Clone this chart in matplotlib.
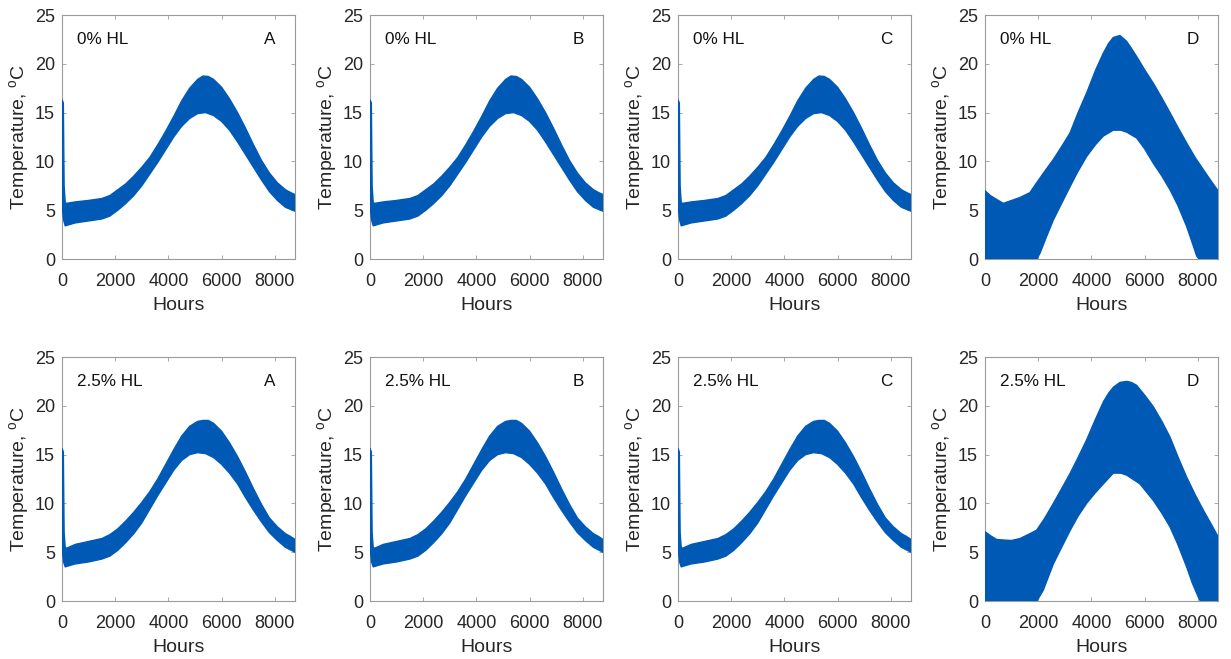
import matplotlib.pyplot as plt

plt.rcParams['font.family'] = ['Liberation Sans', 'DejaVu Sans']
plt.rcParams['mathtext.default'] = 'regular'

# envelope of the hourly temperature band (upper / lower edge), cases A-C
abc_up_h = [0, 50, 80, 120, 170, 500, 1000, 1500, 1800, 2100, 2400, 2700, 3000, 3300, 3600, 3900,
            4200, 4500, 4800, 5100, 5300, 5500, 5700, 6000, 6300, 6600, 6900, 7200, 7500, 7800,
            8100, 8400, 8600, 8760]
abc_up_0 = [16.3, 16.0, 7.5, 5.8, 5.7, 5.85, 6.0, 6.2, 6.5, 7.1, 7.7, 8.5, 9.4, 10.4, 11.7, 13.1,
            14.6, 16.2, 17.5, 18.4, 18.75, 18.7, 18.4, 17.6, 16.4, 15.0, 13.4, 11.7, 10.1, 8.8,
            7.8, 7.1, 6.8, 6.6]
abc_up_25 = [15.6, 15.3, 7.0, 5.5, 5.4, 5.8, 6.1, 6.4, 6.8, 7.4, 8.2, 9.1, 10.1, 11.2, 12.5, 14.0,
             15.5, 16.9, 17.9, 18.4, 18.5, 18.5, 18.2, 17.4, 16.2, 14.8, 13.2, 11.5, 9.9, 8.5,
             7.6, 6.9, 6.6, 6.3]
abc_lo_h = [0, 60, 120, 500, 1000, 1500, 1800, 2100, 2400, 2700, 3000, 3300, 3600, 3900, 4200,
            4500, 4800, 5100, 5400, 5700, 6000, 6300, 6600, 6900, 7200, 7500, 7800, 8100, 8400, 8760]
abc_lo_0 = [5.5, 4.0, 3.4, 3.7, 3.9, 4.1, 4.4, 5.0, 5.7, 6.5, 7.5, 8.7, 9.9, 11.2, 12.5,
            13.6, 14.4, 14.9, 15.0, 14.7, 14.1, 13.2, 12.0, 10.7, 9.4, 8.1, 6.9, 6.0, 5.3, 4.9]
abc_lo_25 = [5.5, 4.0, 3.5, 3.8, 4.0, 4.3, 4.6, 5.2, 6.0, 6.9, 8.0, 9.4, 10.8, 12.1, 13.4,
             14.4, 15.0, 15.2, 15.1, 14.7, 14.0, 13.1, 12.0, 10.6, 9.3, 8.1, 7.0, 6.2, 5.5, 5.0]

# envelope for case D
d_up_h = [0, 200, 440, 690, 1000, 1315, 1690, 1940, 2250, 2570, 2900, 3195, 3500, 3820, 4150,
          4450, 4650, 4825, 5075, 5325, 5500, 5700, 6000, 6330, 6650, 6955, 7250, 7580, 7900,
          8210, 8500, 8760]
d_up_0 = [7.0, 6.5, 6.1, 5.7, 6.0, 6.3, 6.8, 7.8, 9.0, 10.2, 11.6, 12.9, 15.0, 17.0, 19.3,
          21.1, 22.1, 22.7, 22.9, 22.3, 21.6, 20.75, 19.4, 18.0, 16.5, 15.0, 13.5, 11.9, 10.4,
          9.15, 8.0, 7.0]
d_up_25 = [7.1, 6.7, 6.3, 6.25, 6.2, 6.4, 6.9, 7.25, 8.5, 10.0, 11.6, 13.05, 14.7, 16.5, 18.6,
           20.4, 21.3, 21.9, 22.4, 22.5, 22.4, 22.1, 21.1, 19.9, 18.4, 16.8, 14.8, 12.7, 10.9,
           9.3, 7.9, 6.6]
d_lo_h_0 = [0, 1950, 2070, 2300, 2570, 2900, 3195, 3500, 3820, 4150, 4450, 4825, 5100, 5325,
            5700, 6000, 6330, 6650, 6955, 7250, 7580, 7800, 7960, 8050, 8760]
d_lo_0 = [0, 0, 0.6, 2.2, 4.0, 5.8, 7.4, 9.0, 10.5, 11.7, 12.6, 13.2, 13.2, 13.0,
          12.4, 11.3, 9.8, 8.5, 7.1, 5.5, 3.35, 1.6, 0.3, 0, 0]
d_lo_h_25 = [0, 1950, 2190, 2570, 2900, 3195, 3500, 3820, 4150, 4450, 4825, 5100, 5325, 5825,
             6330, 6650, 6955, 7250, 7580, 7800, 8020, 8100, 8760]
d_lo_25 = [0, 0, 1.1, 3.8, 5.6, 7.2, 8.7, 10.0, 11.1, 12.0, 13.1, 13.1, 12.9, 12.0,
           10.3, 9.0, 7.6, 5.8, 3.5, 1.8, 0.4, 0, 0]

rows = ['0% HL', '2.5% HL']
cases = ['A', 'B', 'C', 'D']

blue = '#005AB5'
grey = '#9a9a9a'
txt = '#262626'

fig = plt.figure(figsize=(12.31, 6.59), dpi=100)

lefts = [62, 370, 678, 985]
bottoms = [1 - 259 / 659, 1 - 601 / 659]
w = 233 / 1231
h = 244 / 659

for r, hl in enumerate(rows):
    for c, case in enumerate(cases):
        ax = fig.add_axes([lefts[c] / 1231, bottoms[r], w, h])
        if case == 'D':
            uh = d_up_h
            if r == 0:
                up, lh, lo = d_up_0, d_lo_h_0, d_lo_0
            else:
                up, lh, lo = d_up_25, d_lo_h_25, d_lo_25
        else:
            uh, lh = abc_up_h, abc_lo_h
            up, lo = (abc_up_0, abc_lo_0) if r == 0 else (abc_up_25, abc_lo_25)
        # outline of the band: upper edge forward, lower edge back
        xs = list(uh) + list(lh[::-1])
        ys = list(up) + list(lo[::-1])
        ax.fill(xs, ys, color=blue, lw=1.0, ec=blue, joinstyle='round', zorder=3)

        ax.set_xlim(0, 8760)
        ax.set_ylim(0, 25)
        ax.set_xticks([0, 2000, 4000, 6000, 8000])
        ax.set_yticks([0, 5, 10, 15, 20, 25])
        ax.tick_params(direction='in', length=3, width=0.6, colors=grey,
                       labelcolor=txt, labelsize=13, top=True, right=True)
        ax.tick_params(axis='x', pad=10)
        ax.tick_params(axis='y', pad=5)
        for s in ax.spines.values():
            s.set_color(grey)
            s.set_linewidth(0.8)
        ax.set_xlabel('Hours', fontsize=14, color=txt, labelpad=5)
        ax.set_ylabel(r'Temperature, $^{o}$C', fontsize=14, color=txt, labelpad=3)
        ax.text(0.064, 0.90, hl, transform=ax.transAxes, fontsize=12.3,
                color='#111111', va='center', ha='left')
        ax.text(0.893, 0.90, case, transform=ax.transAxes, fontsize=12.3,
                color='#111111', va='center', ha='center')

fig.savefig('out.png', dpi=100)
